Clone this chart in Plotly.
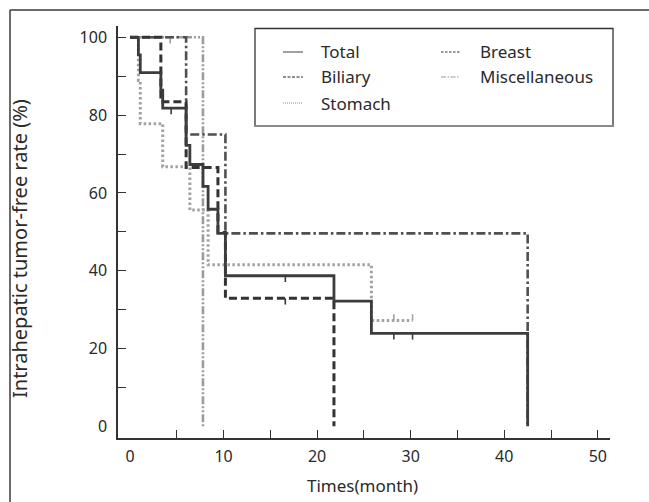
import plotly.graph_objects as go

# ---- data ----
total_t = [0, 0.9, 1.1, 3.3, 3.5, 6.0, 6.4, 7.8, 8.35, 9.4, 10.2, 21.8, 25.8, 42.5]
total_s = [100, 95.5, 90.9, 86.4, 81.8, 72.2, 67.3, 61.7, 55.8, 49.6, 38.7, 32.2, 23.9, 0]

biliary_t = [0, 3.3, 6.0, 9.4, 10.2, 21.8]
biliary_s = [100, 83.4, 66.5, 49.8, 32.9, 0]

stomach_t = [0, 0.9, 1.1, 3.5, 6.4, 8.35, 25.8, 30.2]
stomach_s = [100, 88.9, 77.8, 66.7, 55.6, 41.5, 27.2, 27.2]

breast_t = [0, 6.0, 10.2, 42.5]
breast_s = [100, 75.0, 49.6, 0]

misc_t = [0, 7.8]
misc_s = [100, 0]

# censored observations (time, survival level)
total_cens_t = [4.4, 16.6, 28.2, 30.2]
total_cens_s = [81.8, 38.7, 23.9, 23.9]
biliary_cens_t = [16.6]
biliary_cens_s = [32.9]
stomach_cens_t = [28.2, 30.2]
stomach_cens_s = [27.2, 27.2]
misc_cens_t = [4.3]
misc_cens_s = [100]

x_tick_labels = ["0", "10", "20", "30", "40", "50"]
y_tick_labels = ["0", "20", "40", "60", "80", "100"]

series = [
    # name, t, s, cens_t, cens_s, color, dash, width, tick direction
    ("Miscellaneous", misc_t, misc_s, misc_cens_t, misc_cens_s, "#9c9c9c", "8px,2px,2px,2px,2px,2px", 2.6, -1),
    ("Stomach", stomach_t, stomach_s, stomach_cens_t, stomach_cens_s, "#a2a2a2", "2.5px,2.5px", 3.0, 1),
    ("Breast", breast_t, breast_s, [], [], "#505050", "9px,3px,2.5px,3px", 2.6, -1),
    ("Biliary", biliary_t, biliary_s, biliary_cens_t, biliary_cens_s, "#333333", "8px,4px", 3.0, -1),
    ("Total", total_t, total_s, total_cens_t, total_cens_s, "#3c3c3c", "solid", 2.8, -1),
]

fig = go.Figure()
TICK = 1.6  # censor tick length in y units (style)
for name, t, s, ct, cs, color, dash, w, d in series:
    fig.add_trace(go.Scatter(x=t, y=s, mode="lines", line=dict(shape="hv", color=color, width=w, dash=dash),
                             name=name, showlegend=False, hoverinfo="skip"))
    if ct:
        xs, ys = [], []
        for a, b in zip(ct, cs):
            xs += [a, a, None]
            ys += [b, b + d * TICK, None]
        fig.add_trace(go.Scatter(x=xs, y=ys, mode="lines", line=dict(color=color, width=1.6),
                                 showlegend=False, hoverinfo="skip"))

# ---- layout geometry (pixels) ----
W, H = 649, 502
L, R, T, B = 118, 39, 26, 64
PW, PH = W - L - R, H - T - B


def px(x):
    return (x - L) / PW


def py(y):
    return (H - B - y) / PH


FONT = "Noto Sans, Open Sans, DejaVu Sans, sans-serif"
TXT = "#2a2a2a"

shapes = []
annotations = []

# outer frame (top & left)
shapes.append(dict(type="line", xref="paper", yref="paper", x0=px(10), x1=px(649), y0=py(10), y1=py(10),
                   line=dict(color="#3a3a3a", width=1.5)))
shapes.append(dict(type="line", xref="paper", yref="paper", x0=px(10), x1=px(10), y0=py(10), y1=py(502),
                   line=dict(color="#3a3a3a", width=1.5)))

# legend box
lx0, lx1, ly0, ly1 = 255, 613, 28.5, 126
shapes.append(dict(type="rect", xref="paper", yref="paper", x0=px(lx0), x1=px(lx1), y0=py(ly0), y1=py(ly1),
                   line=dict(color="#333333", width=1.3), fillcolor="white", layer="above"))
shapes.append(dict(type="line", xref="paper", yref="paper", x0=px(lx0), x1=px(lx1 + 1), y0=py(ly1), y1=py(ly1),
                   line=dict(color="#8a8a8a", width=2.2), layer="above"))

legend_items = [
    ("Total", 283, 303, 319, 52, "#555555", "solid"),
    ("Biliary", 283, 303, 319, 77, "#222222", "3px,1.5px"),
    ("Stomach", 283, 303, 319, 103, "#8c8c8c", "1px,1px"),
    ("Breast", 441, 460, 478, 52, "#333333", "2.5px,1.5px"),
    ("Miscellaneous", 441, 460, 478, 77, "#999999", "5px,1.5px,1.5px,1.5px"),
]
for name, a, b, tx, y, col, dsh in legend_items:
    shapes.append(dict(type="line", xref="paper", yref="paper", x0=px(a), x1=px(b), y0=py(y), y1=py(y),
                       line=dict(color=col, width=1.1, dash=dsh), layer="above"))
    annotations.append(dict(text=name, xref="paper", yref="paper", x=px(tx), y=py(y), xanchor="left",
                            yanchor="middle", showarrow=False, font=dict(family=FONT, size=17, color=TXT)))

# axis titles
annotations.append(dict(text="Times(month)", xref="paper", yref="paper", x=px(362), y=py(485),
                        xanchor="center", yanchor="middle", showarrow=False,
                        font=dict(family=FONT, size=17, color=TXT)))
annotations.append(dict(text="Intrahepatic tumor-free rate (%)", xref="paper", yref="paper", x=px(19), y=py(249),
                        xanchor="center", yanchor="middle", textangle=-90, showarrow=False,
                        font=dict(family=FONT, size=20, color=TXT)))

fig.update_layout(
    width=W, height=H,
    margin=dict(l=L, r=R, t=T, b=B, pad=0),
    paper_bgcolor="white", plot_bgcolor="white",
    showlegend=False,
    shapes=shapes, annotations=annotations,
    font=dict(family=FONT, color=TXT),
)

fig.update_xaxes(
    range=[-1.28, 51.3], showgrid=False, zeroline=False,
    showline=True, linecolor="#333333", linewidth=1.5,
    tickvals=[0, 10, 20, 30, 40, 50], ticktext=x_tick_labels, ticks="", ticklabelstandoff=3,
    tickfont=dict(family=FONT, size=16, color=TXT),
    minor=dict(tickvals=[5, 10, 15, 20, 25, 30, 35, 40, 45, 50], ticks="inside", ticklen=8,
               tickcolor="#333333", tickwidth=1.3),
)
fig.update_yaxes(
    range=[-3.0, 102.9], showgrid=False, zeroline=False,
    showline=True, linecolor="#333333", linewidth=1.5,
    tickvals=[0, 20, 40, 60, 80, 100], ticktext=y_tick_labels, ticks="", ticklabelstandoff=6,
    tickfont=dict(family=FONT, size=16, color=TXT),
    minor=dict(tickvals=[10, 20, 30, 40, 50, 60, 70, 80, 90, 100], ticks="inside", ticklen=8,
               tickcolor="#333333", tickwidth=1.3),
)

fig.write_html("out.html")
